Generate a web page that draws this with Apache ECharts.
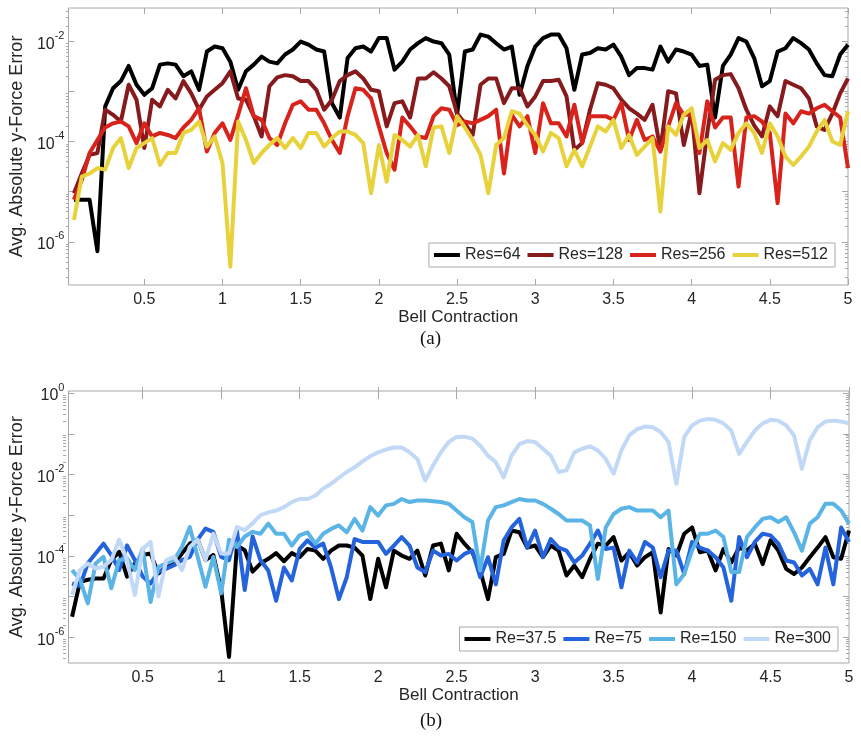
<!DOCTYPE html>
<html>
<head>
<meta charset="utf-8">
<title>Avg. Absolute y-Force Error</title>
<script src="https://cdn.jsdelivr.net/npm/echarts@6/dist/echarts.min.js"></script>
<style>
  html, body { margin: 0; padding: 0; background: #fff; }
  #chart { width: 861px; height: 738px; }
</style>
</head>
<body>
<div id="chart"></div>
<script>
// bell contraction (x), shared by both panels
const contraction = [
  0.05, 0.10, 0.15, 0.20, 0.25, 0.30, 0.35, 0.40, 0.45, 0.50,
  0.55, 0.60, 0.65, 0.70, 0.75, 0.80, 0.85, 0.90, 0.95, 1.00,
  1.05, 1.10, 1.15, 1.20, 1.25, 1.30, 1.35, 1.40, 1.45, 1.50,
  1.55, 1.60, 1.65, 1.70, 1.75, 1.80, 1.85, 1.90, 1.95, 2.00,
  2.05, 2.10, 2.15, 2.20, 2.25, 2.30, 2.35, 2.40, 2.45, 2.50,
  2.55, 2.60, 2.65, 2.70, 2.75, 2.80, 2.85, 2.90, 2.95, 3.00,
  3.05, 3.10, 3.15, 3.20, 3.25, 3.30, 3.35, 3.40, 3.45, 3.50,
  3.55, 3.60, 3.65, 3.70, 3.75, 3.80, 3.85, 3.90, 3.95, 4.00,
  4.05, 4.10, 4.15, 4.20, 4.25, 4.30, 4.35, 4.40, 4.45, 4.50,
  4.55, 4.60, 4.65, 4.70, 4.75, 4.80, 4.85, 4.90, 4.95, 5.00
]

// (a) resolution study
const res64 = [
  6.9e-6, 6.9e-6, 6.9e-6, 6.5e-7, 5.0e-4, 1.15e-3, 1.6e-3, 3.2e-3, 1.35e-3, 8.5e-4,
  1.15e-3, 3.4e-3, 3.6e-3, 3.4e-3, 2.0e-3, 2.5e-3, 1.07e-3, 6.2e-3, 7.8e-3, 7.2e-3,
  3.9e-3, 1.07e-3, 2.5e-3, 3.4e-3, 4.9e-3, 3.9e-3, 3.6e-3, 5.4e-3, 6.8e-3, 9.8e-3,
  8.5e-3, 6.8e-3, 6.2e-3, 5.8e-4, 3.0e-4, 4.6e-3, 7.2e-3, 7.8e-3, 6.2e-3, 1.15e-2,
  1.15e-2, 2.7e-3, 3.9e-3, 6.8e-3, 9.1e-3, 1.15e-2, 9.8e-3, 9.1e-3, 5.4e-3, 3.4e-4,
  6.2e-3, 6.8e-3, 1.35e-2, 1.23e-2, 9.1e-3, 6.8e-3, 7.8e-3, 8.5e-4, 3.2e-3, 7.8e-3,
  1.15e-2, 1.35e-2, 1.35e-2, 7.2e-3, 1.07e-3, 5.4e-3, 5.8e-3, 7.2e-3, 6.8e-3, 8.5e-3,
  4.9e-3, 2.1e-3, 2.9e-3, 2.9e-3, 2.7e-3, 7.8e-3, 3.9e-3, 6.8e-3, 6.2e-3, 5.4e-3,
  3.2e-3, 3.4e-3, 3.0e-4, 3.2e-3, 5.4e-3, 1.15e-2, 9.8e-3, 4.6e-3, 1.26e-3, 1.6e-3,
  6.2e-3, 7.2e-3, 1.15e-2, 9.1e-3, 6.8e-3, 3.6e-3, 2.1e-3, 2.0e-3, 5.4e-3, 8.5e-3
]
const res128 = [
  9.3e-6, 2.3e-5, 5.4e-5, 5.9e-5, 4.3e-4, 3.4e-4, 2.5e-4, 1.35e-3, 6.8e-4, 7.4e-5,
  6.8e-4, 5.0e-4, 1.07e-3, 7.2e-4, 1.6e-3, 9.1e-4, 4.3e-4, 7.9e-4, 1.07e-3, 1.45e-3,
  2.5e-3, 7.2e-4, 6.8e-4, 3.2e-4, 1.26e-4, 1.26e-3, 1.9e-3, 2.1e-3, 2.0e-3, 1.6e-3,
  1.6e-3, 1.07e-3, 4.3e-4, 6.8e-4, 1.6e-3, 2.1e-3, 2.5e-3, 1.8e-3, 1.07e-3, 1.0e-3,
  2.0e-4, 5.8e-4, 6.3e-4, 3.0e-4, 1.8e-3, 1.8e-3, 2.4e-3, 1.8e-3, 1.26e-3, 3.6e-4,
  2.3e-4, 1.35e-4, 1.35e-3, 1.8e-3, 1.8e-3, 5.8e-4, 1.15e-3, 1.15e-3, 5.0e-4, 7.9e-4,
  1.6e-3, 1.6e-3, 1.7e-3, 7.9e-4, 6.8e-5, 9.3e-5, 4.3e-4, 1.45e-3, 1.35e-3, 1.15e-3,
  6.8e-4, 4.6e-4, 3.6e-4, 2.7e-4, 5.4e-4, 6.8e-5, 1.0e-3, 9.1e-4, 8.5e-5, 4.0e-4,
  9.3e-6, 1.48e-4, 1.7e-3, 2.1e-3, 2.2e-3, 1.15e-3, 4.3e-4, 2.1e-4, 1.26e-4, 5.0e-4,
  3.2e-4, 1.6e-3, 1.35e-3, 1.15e-3, 7.2e-4, 2.0e-4, 1.7e-4, 3.6e-4, 9.1e-4, 1.8e-3
]
const res256 = [
  6.9e-6, 1.7e-5, 5.9e-5, 1.07e-4, 1.9e-4, 2.3e-4, 2.5e-4, 2.0e-4, 9.3e-5, 2.3e-4,
  1.26e-4, 1.48e-4, 1.35e-4, 1.17e-4, 1.9e-4, 2.7e-4, 4.6e-4, 6.3e-5, 1.48e-4, 2.3e-4,
  1.07e-4, 3.4e-4, 1.15e-3, 3.2e-4, 2.7e-4, 1.17e-4, 8.5e-5, 2.3e-4, 5.4e-4, 6.3e-4,
  4.3e-4, 4.3e-4, 2.3e-4, 1.07e-4, 5.9e-5, 3.2e-4, 1.15e-3, 1.07e-3, 7.2e-4, 2.0e-4,
  5.9e-5, 2.75e-5, 3.0e-4, 2.0e-4, 1.26e-4, 1.17e-4, 3.2e-4, 4.6e-4, 4.3e-4, 2.1e-4,
  2.5e-4, 2.3e-4, 2.7e-4, 3.2e-4, 4.3e-4, 2.3e-5, 3.4e-4, 2.0e-4, 3.2e-4, 5.9e-5,
  5.8e-4, 2.3e-4, 2.3e-4, 1.26e-4, 5.4e-4, 9.3e-5, 3.2e-4, 3.2e-4, 3.2e-4, 2.7e-4,
  5.8e-4, 1.07e-4, 2.7e-4, 1.07e-4, 1.26e-4, 6.3e-5, 2.0e-4, 5.8e-4, 3.4e-4, 3.4e-4,
  5.9e-5, 6.3e-4, 1.9e-4, 3.0e-4, 3.0e-4, 1.26e-5, 3.0e-4, 3.2e-4, 2.5e-4, 1.48e-4,
  5.9e-6, 3.6e-4, 2.3e-4, 4.0e-4, 3.6e-4, 4.6e-4, 5.4e-4, 4.0e-4, 3.0e-4, 2.95e-5
]
const res512 = [
  2.75e-6, 2.0e-5, 2.3e-5, 2.95e-5, 2.75e-5, 7.4e-5, 1.17e-4, 2.95e-5, 7.4e-5, 9.3e-5,
  1.17e-4, 3.4e-5, 5.9e-5, 5.9e-5, 1.48e-4, 1.7e-4, 2.5e-4, 7.9e-5, 1.26e-4, 3.7e-5,
  3.2e-7, 2.5e-4, 1.07e-4, 3.7e-5, 5.9e-5, 8.5e-5, 1.17e-4, 7.4e-5, 1.17e-4, 7.4e-5,
  1.48e-4, 1.48e-4, 7.9e-5, 1.17e-4, 1.58e-4, 1.58e-4, 1.35e-4, 9.3e-5, 9.3e-6, 8.5e-5,
  1.58e-5, 1.35e-4, 1.07e-4, 7.9e-5, 1.35e-4, 3.2e-5, 1.9e-4, 2.0e-4, 5.9e-5, 3.2e-4,
  1.9e-4, 1.07e-4, 5.4e-5, 9.3e-6, 8.5e-5, 1.17e-4, 4.0e-4, 3.6e-4, 2.1e-4, 1.35e-4,
  6.3e-5, 1.48e-4, 1.17e-4, 3.2e-5, 6.8e-5, 3.2e-5, 7.9e-5, 2.0e-4, 1.58e-4, 2.7e-4,
  7.4e-5, 1.35e-4, 5.4e-5, 7.9e-5, 1.17e-4, 4.0e-6, 2.0e-4, 1.35e-4, 3.4e-4, 4.6e-4,
  7.4e-5, 1.07e-4, 4.0e-5, 9.3e-5, 6.8e-5, 1.48e-4, 2.3e-4, 1.48e-4, 5.9e-5, 2.3e-4,
  1.26e-4, 5.0e-5, 3.4e-5, 5.0e-5, 7.9e-5, 1.58e-4, 2.7e-4, 1.0e-4, 8.5e-5, 4.0e-4
]

// (b) Reynolds number study
const re37 = [
  3.2e-6, 2.3e-5, 2.6e-5, 2.8e-5, 2.8e-5, 7.9e-5, 1.26e-4, 3.1e-5, 6.5e-5, 1.05e-4,
  1.15e-4, 3.7e-5, 5.4e-5, 6.5e-5, 1.15e-4, 2.0e-4, 2.5e-4, 7.9e-5, 1.05e-4, 1.45e-5,
  3.3e-7, 1.8e-4, 1.38e-4, 4.1e-5, 6.5e-5, 8.5e-5, 1.17e-4, 7.4e-5, 1.17e-4, 9.3e-5,
  1.48e-4, 1.35e-4, 8.5e-5, 1.35e-4, 1.8e-4, 1.8e-4, 1.6e-4, 1.02e-4, 8.7e-6, 8.5e-5,
  1.7e-5, 1.35e-4, 1.02e-4, 8.5e-5, 1.35e-4, 3.3e-5, 1.8e-4, 2.0e-4, 4.4e-5, 3.5e-4,
  2.0e-4, 1.23e-4, 4.4e-5, 8.7e-6, 9.3e-5, 1.12e-4, 4.2e-4, 3.8e-4, 1.6e-4, 1.8e-4,
  9.3e-5, 1.8e-4, 1.35e-4, 3.3e-5, 5.8e-5, 3.0e-5, 8.5e-5, 2.0e-4, 1.8e-4, 2.9e-4,
  7.7e-5, 1.23e-4, 5.8e-5, 9.3e-5, 1.23e-4, 4.1e-6, 1.48e-4, 1.02e-4, 3.5e-4, 5.0e-4,
  1.23e-4, 1.35e-4, 4.4e-5, 1.48e-4, 6.9e-5, 1.6e-4, 1.35e-4, 2.0e-4, 6.3e-5, 2.4e-4,
  1.35e-4, 4.8e-5, 3.6e-5, 5.2e-5, 9.3e-5, 1.6e-4, 2.9e-4, 9.3e-5, 8.5e-5, 4.2e-4
]
const re75 = [
  2.1e-5, 1.8e-5, 6.6e-5, 1.15e-4, 2.0e-4, 1.05e-4, 4.5e-5, 1.8e-4, 7.9e-5, 3.1e-5,
  2.1e-5, 4.1e-5, 4.9e-5, 5.9e-5, 7.9e-5, 9.5e-5, 2.5e-4, 4.7e-4, 3.9e-4, 9.5e-5,
  7.9e-5, 4.3e-4, 1.45e-5, 3.0e-4, 7.9e-5, 4.4e-5, 7.9e-6, 5.2e-5, 2.5e-5, 1.48e-4,
  2.4e-4, 1.6e-4, 2.0e-4, 5.2e-5, 8.7e-6, 3.0e-5, 2.6e-4, 2.2e-4, 2.2e-4, 2.2e-4,
  1.12e-4, 1.8e-4, 2.9e-4, 1.8e-4, 5.2e-5, 4.0e-5, 1.35e-4, 1.02e-4, 1.12e-4, 7.7e-5,
  1.12e-4, 1.35e-4, 3.0e-5, 9.3e-5, 2.0e-5, 2.4e-4, 5.0e-4, 8.1e-4, 1.6e-4, 4.2e-4,
  9.3e-5, 2.6e-4, 1.6e-4, 1.35e-4, 6.9e-5, 1.02e-4, 2.0e-4, 4.2e-4, 1.48e-4, 1.6e-4,
  1.7e-5, 1.35e-4, 6.9e-5, 2.2e-4, 1.6e-4, 3.0e-5, 1.35e-4, 1.35e-4, 3.6e-5, 2.2e-4,
  1.6e-4, 1.35e-4, 9.3e-5, 5.2e-5, 7.9e-6, 2.9e-4, 9.3e-5, 2.2e-4, 3.5e-4, 3.2e-4,
  2.0e-4, 7.7e-5, 6.9e-5, 3.3e-5, 4.8e-5, 2.0e-5, 1.6e-4, 2.0e-5, 5.0e-4, 2.2e-4
]
const re150 = [
  4.5e-5, 2.6e-5, 6.8e-6, 6.5e-5, 9.5e-5, 1.6e-5, 7.9e-5, 8.7e-5, 4.5e-5, 1.5e-4,
  7.4e-6, 5.4e-5, 6.5e-5, 7.9e-5, 1.66e-4, 5.1e-4, 9.5e-5, 1.74e-5, 9.5e-5, 1.2e-5,
  2.5e-4, 1.66e-4, 3.0e-4, 3.9e-4, 3.5e-4, 6.2e-4, 3.5e-4, 3.5e-4, 1.8e-4, 3.2e-4,
  3.8e-4, 2.0e-4, 3.5e-4, 4.6e-4, 5.6e-4, 3.8e-4, 8.1e-4, 4.2e-4, 1.58e-3, 9.8e-4,
  1.74e-3, 1.9e-3, 2.5e-3, 2.1e-3, 2.3e-3, 2.3e-3, 2.2e-3, 2.1e-3, 1.9e-3, 1.3e-3,
  8.9e-4, 6.8e-4, 4.4e-5, 7.4e-4, 1.58e-3, 1.74e-3, 2.1e-3, 2.5e-3, 2.3e-3, 2.3e-3,
  1.9e-3, 1.44e-3, 1.07e-3, 7.4e-4, 7.4e-4, 7.4e-4, 5.6e-4, 2.7e-5, 5.0e-4, 1.07e-3,
  1.44e-3, 1.58e-3, 1.3e-3, 1.3e-3, 1.3e-3, 8.9e-4, 1.3e-3, 2.0e-5, 3.6e-5, 1.35e-4,
  3.5e-4, 3.5e-4, 4.2e-4, 2.9e-4, 4.0e-5, 4.0e-5, 2.9e-4, 5.0e-4, 8.1e-4, 8.9e-4,
  6.8e-4, 8.9e-4, 3.8e-4, 1.35e-4, 6.2e-4, 8.9e-4, 1.9e-3, 1.9e-3, 1.3e-3, 6.2e-4
]
const re300 = [
  1.1e-5, 4.5e-5, 6.5e-5, 4.9e-5, 5.4e-5, 7.9e-5, 2.5e-4, 7.9e-5, 1.1e-5, 1.5e-4,
  2.2e-4, 1.0e-5, 7.9e-5, 9.5e-5, 4.5e-5, 1.66e-4, 2.5e-4, 7.9e-5, 3.5e-4, 1.15e-4,
  1.15e-4, 5.1e-4, 4.3e-4, 6.3e-4, 1.0e-3, 1.17e-3, 1.3e-3, 1.58e-3, 2.1e-3, 2.5e-3,
  2.5e-3, 3.0e-3, 4.5e-3, 5.9e-3, 8.3e-3, 1.15e-2, 1.5e-2, 2.1e-2, 2.8e-2, 3.5e-2,
  4.1e-2, 4.6e-2, 4.6e-2, 3.5e-2, 2.4e-2, 7.1e-3, 1.66e-2, 3.5e-2, 6.3e-2, 8.3e-2,
  8.5e-2, 7.6e-2, 5.1e-2, 2.9e-2, 2.0e-2, 8.5e-3, 2.9e-2, 5.6e-2, 6.6e-2, 6.3e-2,
  4.3e-2, 2.9e-2, 1.15e-2, 1.26e-2, 3.5e-2, 4.3e-2, 4.9e-2, 3.9e-2, 2.4e-2, 1.05e-2,
  3.9e-2, 9.1e-2, 0.13, 0.15, 0.145, 0.11, 6.3e-2, 5.9e-3, 8.3e-2, 0.16,
  0.21, 0.23, 0.22, 0.18, 0.12, 3.2e-2, 6.3e-2, 0.12, 0.18, 0.22,
  0.21, 0.16, 9.1e-2, 1.38e-2, 6.9e-2, 0.145, 0.20, 0.21, 0.20, 0.18
]

const xTicks = [0.5, 1, 1.5, 2, 2.5, 3, 3.5, 4, 4.5, 5]
const topLabels = [-6, -4, -2]
const bottomLabels = [-6, -4, -2, 0]

const FONT = '"Liberation Sans", Arial, sans-serif'
const INK = '#262626'
const FRAME = '#a8a8a8'

// plot rectangles (px) and visible log10 ranges
const panels = [
  { left: 66, top: 8, width: 782, height: 277, xMin: 0.015, yMin: -6.86, yMax: -1.34, labels: topLabels, nameGap: 40 },
  { left: 63, top: 391, width: 786, height: 272, xMin: 0.027, yMin: -6.63, yMax: 0.05, labels: bottomLabels, nameGap: 37 },
]

function logTicks(lo, hi) {
  const major = []
  const minor = []
  for (let d = Math.floor(lo); d <= Math.ceil(hi); d++) {
    if (d >= lo && d <= hi) major.push(d)
    for (let m = 2; m < 10; m++) {
      const v = d + Math.log10(m)
      if (v > lo && v < hi) minor.push(v)
    }
  }
  return { major, minor }
}

const tick = (values, length) => ({
  inside: true, length, customValues: values, lineStyle: { color: FRAME, width: 1 },
})

const grid = []
const xAxis = []
const yAxis = []
panels.forEach((p, i) => {
  const rect = { left: p.left, top: p.top, width: p.width, height: p.height }
  // main grid draws the box, the overlay grid only carries the minor ticks
  grid.push({ ...rect, show: true, borderColor: FRAME, borderWidth: 1, backgroundColor: '#fff' })
  grid.push({ ...rect, show: false })

  const xBase = { type: 'value', min: p.xMin, max: 5, splitLine: { show: false }, axisLine: { show: false } }
  xAxis.push({
    ...xBase, gridIndex: 2 * i, position: 'bottom',
    name: 'Bell Contraction', nameLocation: 'middle', nameGap: 21,
    nameTextStyle: { fontFamily: FONT, fontSize: 17, color: INK },
    axisTick: tick(xTicks, 6),
    axisLabel: { customValues: xTicks, margin: 7, fontFamily: FONT, fontSize: 16, color: INK },
  })
  xAxis.push({ ...xBase, gridIndex: 2 * i, position: 'top', axisTick: tick(xTicks, 6), axisLabel: { show: false } })
  xAxis.push({ ...xBase, gridIndex: 2 * i + 1, show: false })

  const t = logTicks(p.yMin, p.yMax)
  const yBase = { type: 'value', min: p.yMin, max: p.yMax, splitLine: { show: false }, axisLine: { show: false } }
  yAxis.push({
    ...yBase, gridIndex: 2 * i, position: 'left',
    name: 'Avg. Absolute y-Force Error', nameLocation: 'middle', nameGap: p.nameGap,
    nameTextStyle: { fontFamily: FONT, fontSize: 18, color: INK },
    axisTick: tick(t.major, 6),
    axisLabel: {
      customValues: p.labels, margin: 4,
      formatter: v => '{b|10}{s|' + Math.round(v) + '}',
      rich: {
        b: { fontFamily: FONT, fontSize: 16, color: INK, padding: [6, 0, 0, 0] },
        s: { fontFamily: FONT, fontSize: 11, color: INK, verticalAlign: 'top' },
      },
    },
  })
  yAxis.push({ ...yBase, gridIndex: 2 * i, position: 'right', axisTick: tick(t.major, 6), axisLabel: { show: false } })
  yAxis.push({ ...yBase, gridIndex: 2 * i + 1, position: 'left', axisTick: tick(t.minor, 3), axisLabel: { show: false } })
  yAxis.push({ ...yBase, gridIndex: 2 * i + 1, position: 'right', axisTick: tick(t.minor, 3), axisLabel: { show: false } })
})

const topSeries = [
  { name: 'Res=64', data: res64, color: '#000000' },
  { name: 'Res=128', data: res128, color: '#861a1c' },
  { name: 'Res=256', data: res256, color: '#d8231c' },
  { name: 'Res=512', data: res512, color: '#e8d23c' },
]
const bottomSeries = [
  { name: 'Re=37.5', data: re37, color: '#000000' },
  { name: 'Re=75', data: re75, color: '#2463db' },
  { name: 'Re=150', data: re150, color: '#5bb4e6' },
  { name: 'Re=300', data: re300, color: '#c1d9f7' },
]

const toLine = (s, xIdx, yIdx) => ({
  name: s.name,
  type: 'line',
  xAxisIndex: xIdx,
  yAxisIndex: yIdx,
  data: contraction.map((x, k) => [x, Math.log10(s.data[k])]),
  symbol: 'none',
  color: s.color,
  lineStyle: { width: 4, color: s.color, join: 'round' },
  clip: true,
})

const legendBase = {
  orient: 'horizontal',
  selectedMode: false,
  icon: 'rect',
  itemWidth: 26,
  itemHeight: 4,
  itemGap: 7,
  padding: [3, 7, 3, 5],
  backgroundColor: '#fff',
  borderColor: FRAME,
  borderWidth: 1,
  borderRadius: 0,
  textStyle: { fontFamily: FONT, fontSize: 16, color: INK, lineHeight: 18 },
}

const option = {
  animation: false,
  backgroundColor: '#fff',
  grid,
  xAxis,
  yAxis,
  legend: [
    { ...legendBase, data: topSeries.map(s => s.name), right: 26, top: 243 },
    { ...legendBase, data: bottomSeries.map(s => s.name), right: 23, top: 627 },
  ],
  graphic: [
    { type: 'text', left: 420, top: 330, style: { text: '(a)', fontFamily: '"Liberation Serif", "Times New Roman", serif', fontSize: 19, fill: '#111' } },
    { type: 'text', left: 420, top: 712, style: { text: '(b)', fontFamily: '"Liberation Serif", "Times New Roman", serif', fontSize: 19, fill: '#111' } },
  ],
  series: [
    ...topSeries.map(s => toLine(s, 0, 0)),
    ...bottomSeries.map(s => toLine(s, 3, 4)),
  ],
}

const chart = echarts.init(document.getElementById('chart'), null, { renderer: 'canvas' })
chart.setOption(option)
</script>
</body>
</html>
